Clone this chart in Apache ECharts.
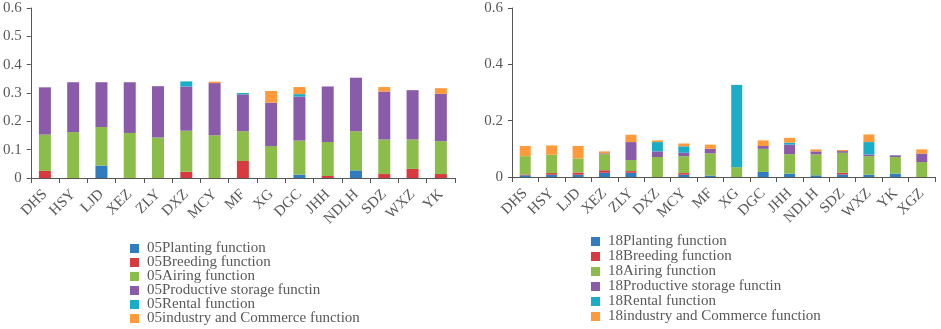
<!DOCTYPE html>
<html>
<head>
<meta charset="utf-8">
<script src="https://cdn.jsdelivr.net/npm/echarts@6/dist/echarts.min.js"></script>
<style>
  html, body { margin: 0; padding: 0; background: #fff; }
  #main { width: 941px; height: 329px; }
</style>
</head>
<body>
<div id="main"></div>
<script>
// 2005 towns
var cats05 = ['DHS', 'HSY', 'LJD', 'XEZ', 'ZLY', 'DXZ', 'MCY', 'MF', 'XG', 'DGC', 'JHH', 'NDLH', 'SDZ', 'WXZ', 'YK'];
var planting05 = [0, 0, 0.044, 0, 0, 0, 0, 0, 0, 0.012, 0, 0.027, 0, 0, 0];
var breeding05 = [0.025, 0, 0, 0, 0, 0.022, 0, 0.060, 0, 0, 0.007, 0, 0.014, 0.032, 0.014];
var airing05 = [0.128, 0.162, 0.136, 0.159, 0.143, 0.145, 0.151, 0.105, 0.113, 0.120, 0.120, 0.138, 0.122, 0.104, 0.116];
var storage05 = [0.167, 0.176, 0.158, 0.179, 0.181, 0.156, 0.184, 0.130, 0.153, 0.155, 0.196, 0.189, 0.169, 0.174, 0.167];
var rental05 = [0, 0, 0, 0, 0, 0.018, 0, 0.005, 0, 0.009, 0, 0, 0, 0, 0];
var industry05 = [0, 0, 0, 0, 0, 0, 0.005, 0, 0.041, 0.025, 0, 0, 0.016, 0, 0.020];

// 2018 towns
var cats18 = ['DHS', 'HSY', 'LJD', 'XEZ', 'ZLY', 'DXZ', 'MCY', 'MF', 'XG', 'DGC', 'JHH', 'NDLH', 'SDZ', 'WXZ', 'YK', 'XGZ'];
var planting18 = [0.006, 0.008, 0.008, 0.015, 0.015, 0, 0.008, 0.005, 0, 0.018, 0.012, 0.006, 0.009, 0.008, 0.012, 0];
var breeding18 = [0.003, 0.006, 0.008, 0.009, 0.006, 0, 0.006, 0, 0, 0, 0, 0, 0.006, 0, 0, 0];
var airing18 = [0.065, 0.065, 0.050, 0.057, 0.039, 0.071, 0.060, 0.079, 0.035, 0.082, 0.069, 0.074, 0.071, 0.066, 0.059, 0.053];
var storage18 = [0, 0, 0, 0.003, 0.064, 0.020, 0.012, 0.016, 0, 0.010, 0.034, 0.011, 0.006, 0.006, 0.006, 0.030];
var rental18 = [0, 0, 0, 0, 0, 0.033, 0.023, 0, 0.292, 0, 0.007, 0, 0, 0.044, 0, 0];
var industry18 = [0.036, 0.033, 0.044, 0.007, 0.026, 0.006, 0.010, 0.015, 0, 0.020, 0.017, 0.007, 0.004, 0.027, 0, 0.015];

var colors = ['#2f7dbf', '#d93a3f', '#8cbd4a', '#8a5ba8', '#19adc8', '#ff9a3a'];
var fnNames = ['Planting function', 'Breeding function', 'Airing function', 'Productive storage functin', 'Rental function', 'industry and Commerce function'];

var font = 'Liberation Serif';
var txt = '#595959';

var chart = echarts.init(document.getElementById('main'), null, { renderer: 'canvas' });

function makeX(cats, idx) {
    return {
        type: 'category',
        gridIndex: idx,
        data: cats,
        axisLine: { lineStyle: { color: '#555', width: 1 } },
        axisTick: { show: true, length: 5, lineStyle: { color: '#555' } },
        axisLabel: { interval: 0, rotate: 45, color: txt, fontFamily: font, fontSize: 15, margin: 14 }
    };
}

function makeY(idx, step) {
    return {
        type: 'value',
        gridIndex: idx,
        min: 0,
        max: 0.6,
        interval: step,
        axisLine: { show: true, lineStyle: { color: '#555', width: 1 } },
        axisTick: { show: true, length: 4, lineStyle: { color: '#555' } },
        splitLine: { show: false },
        axisLabel: {
            color: txt, fontFamily: font, fontSize: 15, margin: 9,
            formatter: function (v) { return v === 0 ? '0' : v.toFixed(1); }
        }
    };
}

var data05 = [planting05, breeding05, airing05, storage05, rental05, industry05];
var data18 = [planting18, breeding18, airing18, storage18, rental18, industry18];

var series = [];
fnNames.forEach(function (n, i) {
    series.push({
        name: '05' + n, type: 'bar', stack: 's05', xAxisIndex: 0, yAxisIndex: 0,
        barWidth: 12, itemStyle: { color: colors[i] }, data: data05[i]
    });
});
fnNames.forEach(function (n, i) {
    series.push({
        name: '18' + n, type: 'bar', stack: 's18', xAxisIndex: 1, yAxisIndex: 1,
        barWidth: 11, itemStyle: { color: colors[i] }, data: data18[i]
    });
});

var legendCommon = {
    orient: 'vertical',
    icon: 'rect',
    itemWidth: 9,
    itemHeight: 9,
    height: 120,
    selectedMode: false,
    padding: 0,
    textStyle: { color: txt, fontFamily: font, fontSize: 15, lineHeight: 14, padding: [0, 0, 0, 3] }
};

var option = {
    backgroundColor: '#fff',
    animation: false,
    grid: [
        { left: 30, top: 8, width: 425, height: 170 },
        { left: 512, top: 8, width: 423, height: 169 }
    ],
    xAxis: [makeX(cats05, 0), makeX(cats18, 1)],
    yAxis: [makeY(0, 0.1), makeY(1, 0.2)],
    legend: [
        Object.assign({}, legendCommon, {
            left: 130, top: 241, itemGap: -1,
            data: fnNames.map(function (n) { return '05' + n; })
        }),
        Object.assign({}, legendCommon, {
            left: 591, top: 234, itemGap: 0,
            data: fnNames.map(function (n) { return '18' + n; })
        })
    ],
    series: series
};

chart.setOption(option);
</script>
</body>
</html>
